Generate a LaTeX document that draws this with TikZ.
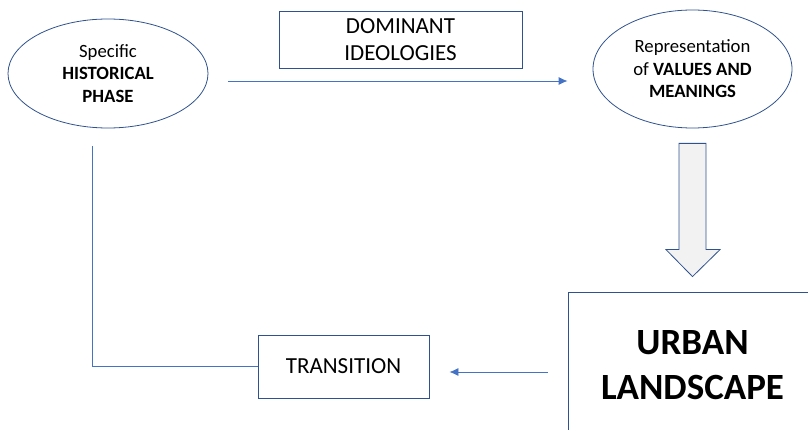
\documentclass[tikz,border=0pt]{standalone}
\usepackage{fontspec}
\setmainfont{Carlito}
\usepackage{xcolor}
\usetikzlibrary{arrows.meta,positioning,calc,shapes.geometric}

\definecolor{edgeblue}{HTML}{2F528F}
\definecolor{lineblue}{HTML}{4472C4}
\definecolor{shaftgray}{HTML}{F2F2F2}

\tikzset{
	phase/.style={ellipse,draw=edgeblue,line width=0.8pt,inner sep=0pt,align=center,
		font=\fontsize{18.7}{22.5}\selectfont},
	plainbox/.style={rectangle,draw=edgeblue,line width=0.8pt,inner sep=0pt,align=center,
		font=\fontsize{23}{26.5}\selectfont},
	flow/.style={lineblue,line width=0.8pt},
	flowarrow/.style={flow,-{Latex[length=9pt,width=8pt]}}
}

\begin{document}
\begin{tikzpicture}[x=1pt,y=-1pt]
		\useasboundingbox (0,0) rectangle (808,430);
		\clip (0,0) rectangle (808,430);
		% nodes
		\node[phase,minimum width=200,minimum height=109] (hist) at (108,73.5) {Specific\\\textbf{HISTORICAL}\\\textbf{PHASE}};
		\node[phase,minimum width=199,minimum height=118] (vals) at (692.5,69) {Representation\\of \textbf{VALUES AND}\\\textbf{MEANINGS}};
		\node[plainbox,minimum width=243,minimum height=57] (ideo) at (400.5,39.5) {DOMINANT\\IDEOLOGIES};
		\node[plainbox,minimum width=171,minimum height=63] (trans) at (343.5,366.5) {TRANSITION};
		\node[plainbox,minimum width=249,minimum height=146,
			font=\fontsize{37}{45}\selectfont\bfseries] (urban) at (692.5,365) {URBAN\\LANDSCAPE};
		% connectors
		\draw[flowarrow] ([shift={(20,7.5)}]hist.east) -- ([shift={(-25,12)}]vals.west);
		\draw[flowarrow] ([shift={(-20,7)}]urban.west) -- ([shift={(20,5.5)}]trans.east);
		\draw[flow] ([shift={(-16,17.5)}]hist.south) |- (trans.west);
		% hollow down arrow
		\draw[edgeblue,line width=0.8pt,fill=shaftgray,line join=miter]
			([shift={(-13.5,15)}]vals.south) -- ([shift={(13.5,15)}]vals.south)
			-- ([shift={(13.5,-42)}]urban.north) -- ([shift={(27.5,-42)}]urban.north)
			-- ([shift={(0,-15)}]urban.north) -- ([shift={(-26.5,-42)}]urban.north)
			-- ([shift={(-13.5,-42)}]urban.north) -- cycle;
	\end{tikzpicture}
\end{document}
